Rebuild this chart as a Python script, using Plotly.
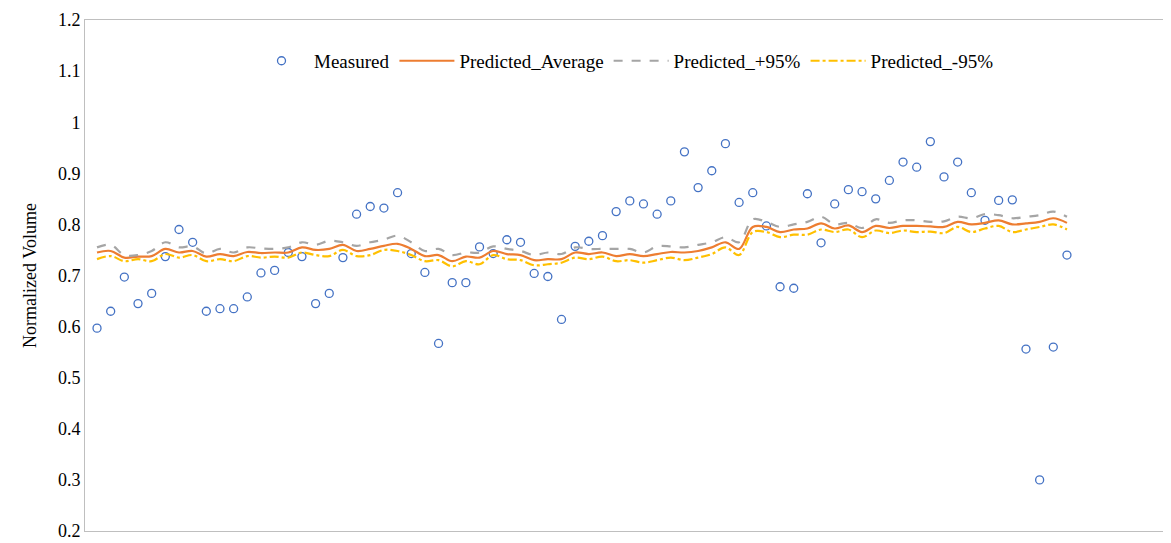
import plotly.graph_objects as go

measured = [0.597, 0.63, 0.697, 0.645, 0.665, 0.737, 0.79, 0.765, 0.63, 0.635, 0.635, 0.658,
            0.705, 0.71, 0.745, 0.737, 0.645, 0.665, 0.735, 0.82, 0.835, 0.832, 0.862, 0.743,
            0.706, 0.567, 0.686, 0.686, 0.756, 0.743, 0.77, 0.765, 0.704, 0.698, 0.614, 0.757,
            0.767, 0.778, 0.825, 0.846, 0.84, 0.82, 0.846, 0.942, 0.872, 0.905, 0.958, 0.843,
            0.862, 0.797, 0.678, 0.675, 0.86, 0.764, 0.84, 0.868, 0.864, 0.85, 0.886, 0.922,
            0.912, 0.962, 0.893, 0.922, 0.862, 0.808, 0.847, 0.848, 0.556, 0.3, 0.56, 0.74]

pred_avg = [0.745, 0.748, 0.735, 0.737, 0.738, 0.752, 0.745, 0.748, 0.737, 0.742, 0.738, 0.746,
            0.744, 0.745, 0.745, 0.755, 0.75, 0.752, 0.76, 0.748, 0.752, 0.758, 0.762, 0.752,
            0.738, 0.74, 0.728, 0.737, 0.735, 0.748, 0.742, 0.74, 0.73, 0.732, 0.732, 0.745,
            0.742, 0.745, 0.738, 0.742, 0.738, 0.742, 0.746, 0.745, 0.748, 0.755, 0.765, 0.752,
            0.795, 0.795, 0.785, 0.79, 0.792, 0.802, 0.792, 0.798, 0.785, 0.797, 0.793, 0.797,
            0.797, 0.796, 0.795, 0.805, 0.8, 0.803, 0.808, 0.8, 0.802, 0.805, 0.812, 0.803]

pred_hi = [0.755, 0.76, 0.74, 0.74, 0.748, 0.765, 0.755, 0.757, 0.743, 0.752, 0.745, 0.755,
           0.753, 0.752, 0.755, 0.765, 0.76, 0.768, 0.765, 0.758, 0.765, 0.77, 0.778, 0.765,
           0.748, 0.752, 0.74, 0.745, 0.745, 0.757, 0.752, 0.748, 0.74, 0.745, 0.742, 0.755,
           0.752, 0.752, 0.752, 0.752, 0.745, 0.757, 0.757, 0.755, 0.76, 0.765, 0.775, 0.765,
           0.81, 0.805, 0.795, 0.8, 0.805, 0.815, 0.8, 0.803, 0.793, 0.81, 0.803, 0.808,
           0.808, 0.805, 0.806, 0.815, 0.812, 0.82, 0.818, 0.812, 0.815, 0.818, 0.825, 0.815]

pred_lo = [0.732, 0.738, 0.728, 0.732, 0.728, 0.742, 0.735, 0.74, 0.728, 0.732, 0.728, 0.738,
           0.735, 0.737, 0.735, 0.745, 0.74, 0.738, 0.75, 0.738, 0.74, 0.75, 0.748, 0.74,
           0.728, 0.73, 0.718, 0.728, 0.722, 0.74, 0.732, 0.73, 0.72, 0.722, 0.725, 0.735,
           0.732, 0.737, 0.728, 0.73, 0.725, 0.73, 0.735, 0.73, 0.735, 0.742, 0.755, 0.74,
           0.785, 0.785, 0.775, 0.78, 0.78, 0.79, 0.785, 0.79, 0.775, 0.788, 0.783, 0.788,
           0.785, 0.786, 0.783, 0.795, 0.785, 0.792, 0.797, 0.785, 0.79, 0.795, 0.8, 0.79]

x = list(range(1, len(measured) + 1))
font = "Liberation Serif"

fig = go.Figure()
fig.add_trace(go.Scatter(x=x, y=measured, mode="markers", name="Measured",
                         marker=dict(symbol="circle-open", size=8, color="#4472C4",
                                     line=dict(width=1.3))))
fig.add_trace(go.Scatter(x=x, y=pred_avg, mode="lines", name="Predicted_Average",
                         line=dict(color="#ED7D31", width=2.2, shape="spline")))
fig.add_trace(go.Scatter(x=x, y=pred_hi, mode="lines", name="Predicted_+95%",
                         line=dict(color="#A5A5A5", width=2.2, dash="dash", shape="spline")))
fig.add_trace(go.Scatter(x=x, y=pred_lo, mode="lines", name="Predicted_-95%",
                         line=dict(color="#FFC000", width=2.2, dash="dashdot", shape="spline")))

# page body has an 8px margin, so the figure is sized to fit inside it
fig.update_layout(
    width=1155, height=535,
    margin=dict(l=77, r=0, t=12, b=12),
    plot_bgcolor="white", paper_bgcolor="white",
    font=dict(family=font, size=18, color="black"),
    legend=dict(orientation="h", x=0.5, xanchor="center", y=0.92, yanchor="middle",
                font=dict(size=19), bgcolor="rgba(0,0,0,0)", itemwidth=55,
                tracegroupgap=0),
)
fig.update_xaxes(range=[0.12, 79.03], showticklabels=False, showgrid=False, zeroline=False,
                 showline=True, linecolor="#BFBFBF", mirror=True, ticks="", automargin=False)
fig.update_yaxes(range=[0.2, 1.2], dtick=0.1, tickformat="~g", showgrid=False, zeroline=False,
                 showline=True, linecolor="#BFBFBF", mirror=True, automargin=False,
                 title=dict(text="Normalized Volume", font=dict(size=18), standoff=16),
                 tickfont=dict(size=18))
fig.write_html("out.html")
